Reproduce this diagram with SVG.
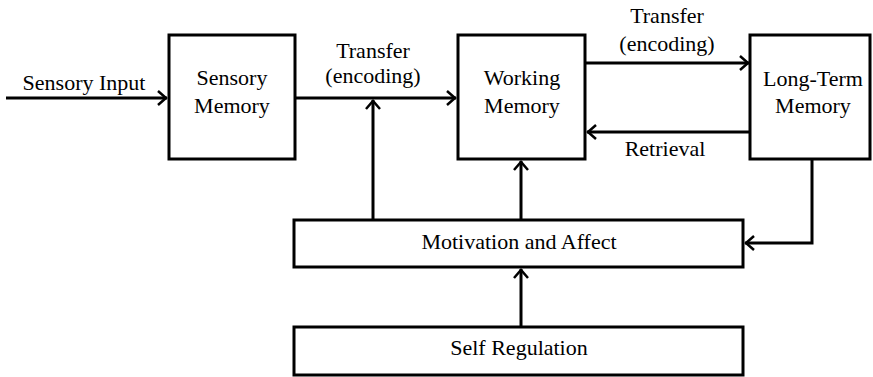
<svg xmlns="http://www.w3.org/2000/svg" width="873" height="377" viewBox="0 0 873 377">
<style>
.box{fill:#fff;stroke:#000;stroke-width:3}
.t{font-family:'Liberation Serif','Times New Roman',Times,'DejaVu Serif',serif;font-size:22px;fill:#000;text-anchor:middle}
.c{fill:none;stroke:#000;stroke-width:3}
</style>
<defs>
<marker id="a" viewBox="0 0 12 16" refX="11" refY="8" markerWidth="12" markerHeight="16" markerUnits="userSpaceOnUse" orient="auto">
<polyline points="2,1 10,8 2,15" fill="none" stroke="#000" stroke-width="2.5"/>
</marker>
</defs>
<rect width="873" height="377" fill="#fff"/>
<g id="connectors">
<line class="c" x1="6" y1="98" x2="167" y2="98" marker-end="url(#a)"/>
<line class="c" x1="295" y1="98" x2="456" y2="98" marker-end="url(#a)"/>
<line class="c" x1="585" y1="63" x2="749" y2="63" marker-end="url(#a)"/>
<line class="c" x1="750" y1="132" x2="587" y2="132" marker-end="url(#a)"/>
<polyline class="c" points="812,159 812,243 745,243" marker-end="url(#a)"/>
<line class="c" x1="373" y1="220" x2="373" y2="100" marker-end="url(#a)"/>
<line class="c" x1="521" y1="220" x2="521" y2="161" marker-end="url(#a)"/>
<line class="c" x1="521" y1="327" x2="521" y2="269" marker-end="url(#a)"/>
<text class="t" x="84" y="90" font-family="Liberation Serif, serif">Sensory Input</text>
<text class="t" x="373" y="58" font-family="Liberation Serif, serif">Transfer</text>
<text class="t" x="373" y="83" font-family="Liberation Serif, serif">(encoding)</text>
<text class="t" x="667" y="23" font-family="Liberation Serif, serif">Transfer</text>
<text class="t" x="667" y="51" font-family="Liberation Serif, serif">(encoding)</text>
<text class="t" x="665" y="156" font-family="Liberation Serif, serif">Retrieval</text>
</g>
<g id="sensory-memory">
<rect class="box" x="169" y="35" width="126" height="124"/>
<text class="t" x="232" y="85" font-family="Liberation Serif, serif">Sensory</text>
<text class="t" x="232" y="113" font-family="Liberation Serif, serif">Memory</text>
</g>
<g id="working-memory">
<rect class="box" x="458" y="35" width="127" height="124"/>
<text class="t" x="522" y="85" font-family="Liberation Serif, serif">Working</text>
<text class="t" x="522" y="113" font-family="Liberation Serif, serif">Memory</text>
</g>
<g id="long-term-memory">
<rect class="box" x="750" y="35" width="120" height="124"/>
<text class="t" x="813" y="86" font-family="Liberation Serif, serif">Long-Term</text>
<text class="t" x="813" y="113" font-family="Liberation Serif, serif">Memory</text>
</g>
<g id="motivation">
<rect class="box" x="294" y="220" width="449" height="47"/>
<text class="t" x="519" y="249" font-family="Liberation Serif, serif">Motivation and Affect</text>
</g>
<g id="self-regulation">
<rect class="box" x="294" y="327" width="449" height="48"/>
<text class="t" x="519" y="355" font-family="Liberation Serif, serif">Self Regulation</text>
</g>
</svg>
